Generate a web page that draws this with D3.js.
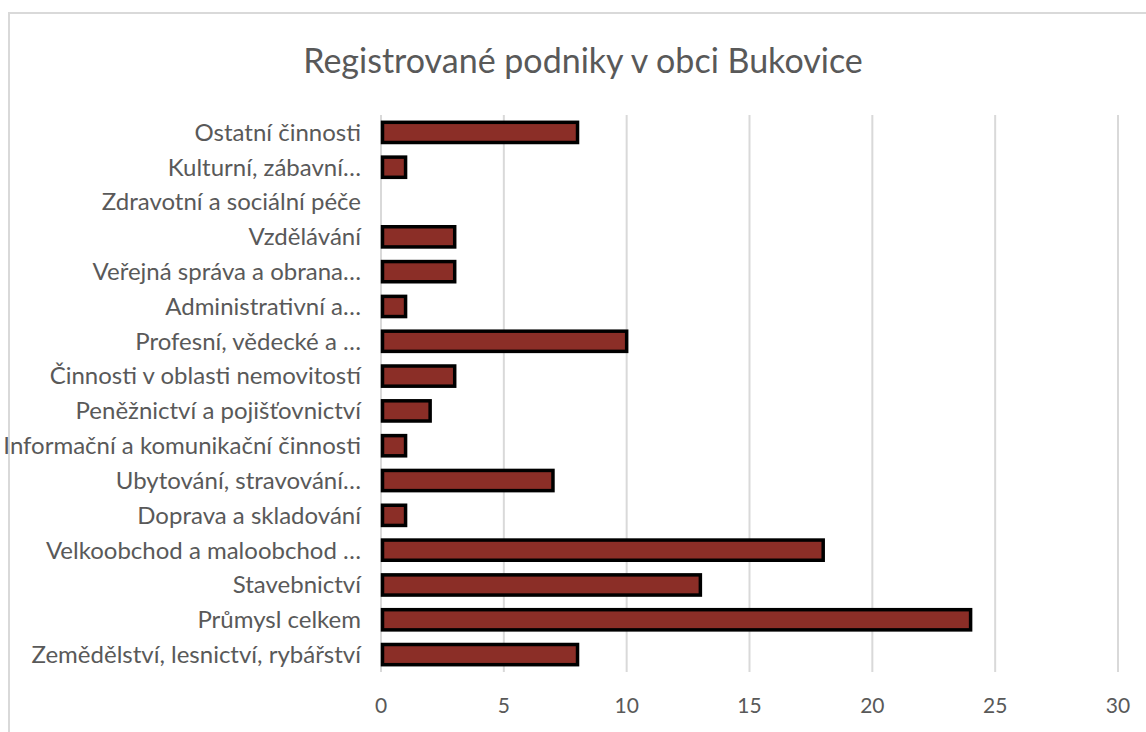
<!DOCTYPE html>
<html>
<head>
<meta charset="utf-8">
<script src="https://cdn.jsdelivr.net/npm/d3@7"></script>
<style>
  html, body { margin: 0; padding: 0; background: #fff; }
  svg { display: block; font-family: Lato, "Open Sans", sans-serif; }
</style>
</head>
<body>
<svg id="chart" width="1146" height="732"></svg>
<script>
'use strict';
// Data, top to bottom as shown
const categories = [
  'Ostatní činnosti',
  'Kulturní, zábavní…',
  'Zdravotní a sociální péče',
  'Vzdělávání',
  'Veřejná správa a obrana…',
  'Administrativní a…',
  'Profesní, vědecké a …',
  'Činnosti v oblasti nemovitostí',
  'Peněžnictví a pojišťovnictví',
  'Informační a komunikační činnosti',
  'Ubytování, stravování…',
  'Doprava a skladování',
  'Velkoobchod a maloobchod …',
  'Stavebnictví',
  'Průmysl celkem',
  'Zemědělství, lesnictví, rybářství'
];
const values = [8, 1, 0, 3, 3, 1, 10, 3, 2, 1, 7, 1, 18, 13, 24, 8];
const xTicks = [0, 5, 10, 15, 20, 25, 30];
const title = 'Registrované podniky v obci Bukovice';

const svg = d3.select('#chart');
const grey = '#595959';

// Chart frame (only top and left edges visible)
svg.append('path')
  .attr('d', 'M9,1000V13H1200')
  .attr('fill', 'none')
  .attr('stroke', '#d9d9d9')
  .attr('stroke-width', 2);

svg.append('text')
  .attr('x', 583).attr('y', 73)
  .attr('text-anchor', 'middle')
  .attr('font-size', 34)
  .attr('fill', grey)
  .text(title);

const x = d3.scaleLinear().domain([0, 30]).range([381, 1118]);
const y = d3.scaleBand().domain(categories).range([115, 672]).paddingInner(0.42).paddingOuter(0.21);

// Gridlines
svg.append('g').selectAll('line').data(xTicks).enter().append('line')
  .attr('x1', d => x(d)).attr('x2', d => x(d))
  .attr('y1', 115).attr('y2', 672)
  .attr('stroke', '#d9d9d9').attr('stroke-width', 2);

// Tick labels
svg.append('g').selectAll('text').data(xTicks).enter().append('text')
  .attr('x', d => x(d)).attr('y', 713)
  .attr('text-anchor', 'middle')
  .attr('font-size', 21)
  .attr('fill', grey)
  .text(d => d);

// Category labels
svg.append('g').selectAll('text').data(categories).enter().append('text')
  .attr('x', 361)
  .attr('y', d => y(d) + y.bandwidth() / 2)
  .attr('dy', '0.35em')
  .attr('text-anchor', 'end')
  .attr('font-size', 24)
  .attr('fill', grey)
  .text(d => d);

// Bars
svg.append('g').selectAll('rect')
  .data(categories.map((c, i) => ({c, v: values[i]})).filter(d => d.v > 0))
  .enter().append('rect')
  .attr('x', x(0) + 1.5)
  .attr('y', d => y(d.c))
  .attr('width', d => x(d.v) - x(0) - 1.5)
  .attr('height', y.bandwidth())
  .attr('fill', '#8b2e27')
  .attr('stroke', '#000')
  .attr('stroke-width', 3.5);
</script>
</body>
</html>
